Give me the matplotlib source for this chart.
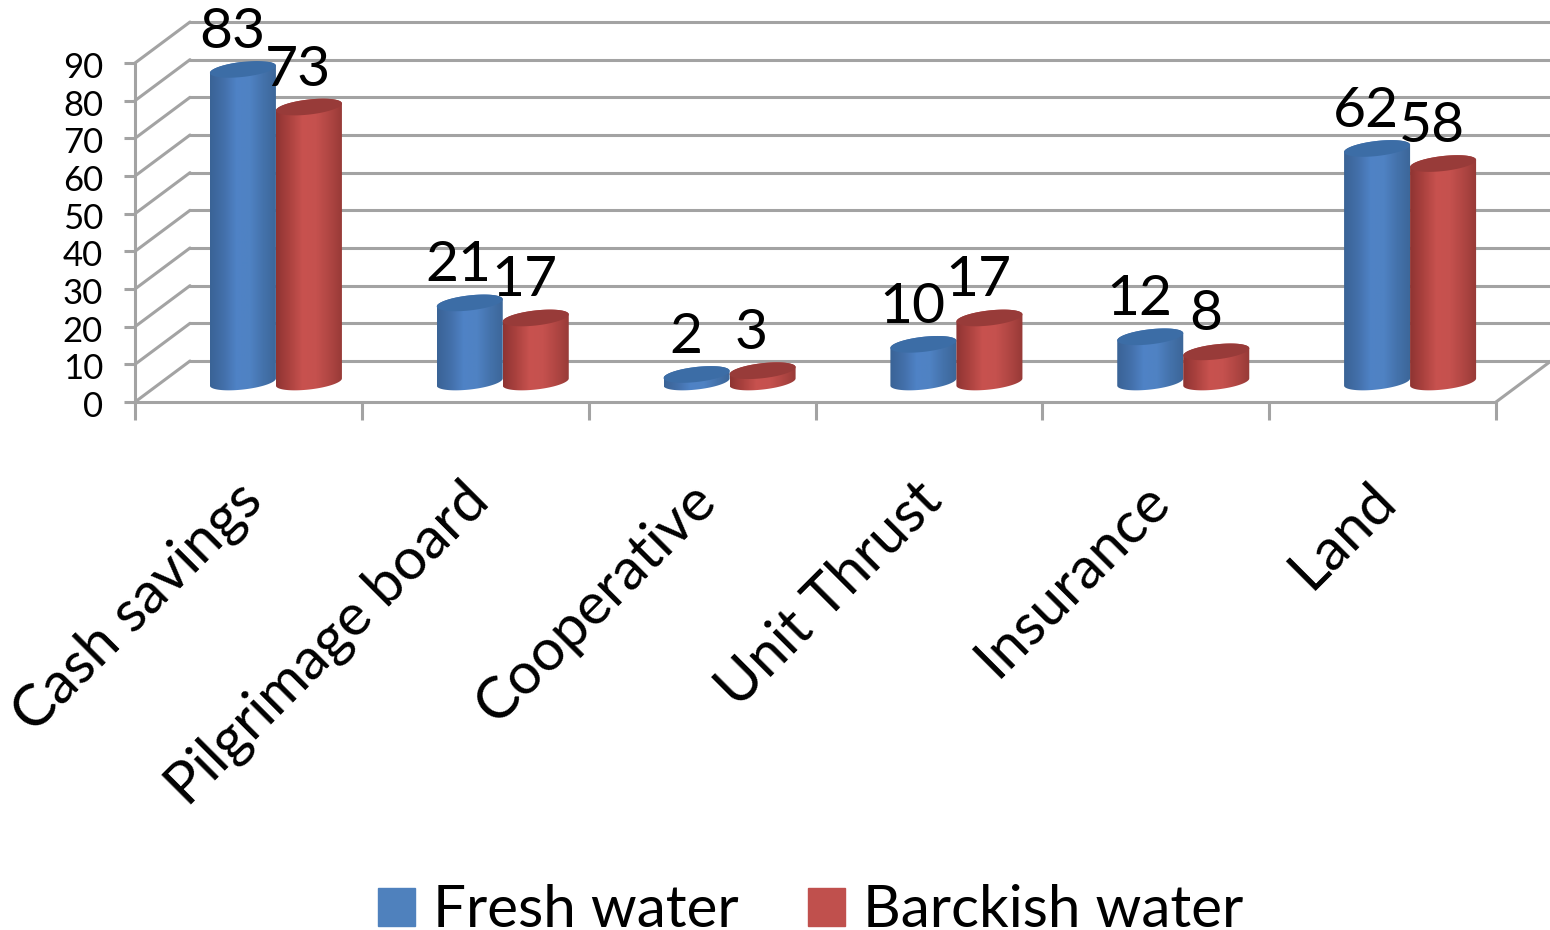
"""Cylinder chart of saving types for fresh water and brackish water farmers."""

import matplotlib

matplotlib.use("Agg")

import matplotlib.pyplot as plt
import numpy as np
from matplotlib.patches import Patch, PathPatch, Polygon
from matplotlib.path import Path
from matplotlib.transforms import Affine2D

categories = ["Cash savings", "Pilgrimage board", "Cooperative", "Unit Thrust", "Insurance", "Land"]
fresh_water = [83, 21, 2, 10, 12, 62]
brackish_water = [73, 17, 3, 17, 8, 58]
series_names = ["Fresh water", "Barckish water"]
y_ticks = list(range(0, 100, 10))

GRID = "#a3a3a3"
BLUES = ["#3a6396", "#436fa9", "#4f83c6", "#4f82c3", "#4472ab", "#3c6698"]
REDS = ["#8f3432", "#ab423f", "#c8524f", "#c5514e", "#b04643", "#963a37"]
BLUE_TOP = "#3c6da6"
RED_TOP = "#983b39"
BAR_W = 0.291


def hex_ramp(colors):
    """Horizontal gradient image from a list of hex colours."""
    rgb = np.array([matplotlib.colors.to_rgb(c) for c in colors])
    pos = np.linspace(0, 1, len(colors))
    xs = np.linspace(0, 1, 128)
    ramp = np.stack([np.interp(xs, pos, rgb[:, k]) for k in range(3)], axis=-1)
    return ramp[np.newaxis, :, :]


def cylinder(ax, xc, value, colors, top_color, trans):
    """Draw one tilted cylinder from zero up to value."""
    a, b, s = BAR_W / 2, 2.0, 0.95
    up = np.linspace(0, np.pi, 60)
    down = np.linspace(np.pi, 2 * np.pi, 60)

    def arc(t, yc):
        return np.column_stack([xc + a * np.cos(t), yc + b * np.sin(t) + s * np.cos(t)])

    body = np.vstack([arc(down, 0), arc(up, value)])
    clip = PathPatch(Path(np.vstack([body, body[:1]])), transform=trans, fc="none", ec="none")
    ax.add_patch(clip)
    img = ax.imshow(
        hex_ramp(colors),
        extent=(xc - a, xc + a, -3, value + 3),
        aspect="auto",
        transform=trans,
        zorder=3,
        interpolation="bilinear",
    )
    img.set_clip_path(clip)
    img.set_clip_box(None)
    all_t = np.linspace(0, 2 * np.pi, 120)
    ax.add_patch(Polygon(arc(all_t, value), closed=True, fc=top_color, ec="none", transform=trans, zorder=3, clip_on=False))


def main():
    """Plot figure."""
    plt.rcParams["font.family"] = ["Lato", "DejaVu Sans"]
    fig = plt.figure(figsize=(15.5, 9.3), dpi=100)
    ax = fig.add_axes([135 / 1550, 528 / 930, 1361 / 1550, 339 / 930])
    n = len(categories)

    back = ax.transData + Affine2D().translate(55, 41)
    mid = ax.transData + Affine2D().translate(27.5, 20)

    # walls: grid lines at the back and the slanted lines on the left side
    for v in y_ticks:
        ax.plot([0, n], [v, v], color=GRID, lw=2.2, transform=back, clip_on=False, zorder=1)
        ax.annotate("", xy=(0, v), xytext=(55, 41), textcoords="offset pixels", xycoords="data",
                    arrowprops=dict(arrowstyle="-", color=GRID, lw=2.2, shrinkA=0, shrinkB=0), zorder=1)
    ax.annotate("", xy=(n, 0), xytext=(55, 41), textcoords="offset pixels", xycoords="data",
                arrowprops=dict(arrowstyle="-", color=GRID, lw=2.2, shrinkA=0, shrinkB=0), zorder=1)

    for i in range(n):
        left = i + 0.5 - BAR_W / 2
        right = i + 0.5 + BAR_W / 2
        cylinder(ax, left, fresh_water[i], BLUES, BLUE_TOP, mid)
        cylinder(ax, right, brackish_water[i], REDS, RED_TOP, mid)

    # value labels sit above each cylinder
    for i in range(n):
        for x, v in [(i + 0.5 - BAR_W / 2, fresh_water[i]), (i + 0.5 + BAR_W / 2, brackish_water[i])]:
            ax.annotate(str(v), xy=(x, v), xytext=(16.5, 57), textcoords="offset pixels",
                        ha="center", va="center", fontsize=41, color="black", zorder=5,
                        annotation_clip=False)

    ax.set_xlim(0, n)
    ax.set_ylim(0, 90)
    ax.patch.set_visible(False)
    for side in ["top", "right"]:
        ax.spines[side].set_visible(False)
    for side in ["left", "bottom"]:
        ax.spines[side].set_color(GRID)
        ax.spines[side].set_linewidth(2.2)

    ax.set_yticks(y_ticks)
    ax.tick_params(axis="y", length=8, width=2.2, color=GRID, labelsize=25, pad=15)
    for label in ax.get_yticklabels():
        label.set_transform(label.get_transform() + Affine2D().translate(0, -2))
    ax.set_xticks(range(n + 1))
    ax.set_xticklabels([])
    ax.tick_params(axis="x", which="major", length=13, width=2.2, color=GRID)
    ax.set_xticks([i + 0.5 for i in range(n)], minor=True)
    ax.set_xticklabels(categories, minor=True, rotation=45, ha="right", va="top",
                       rotation_mode="anchor", fontsize=42)
    ax.tick_params(axis="x", which="minor", length=0, pad=51)
    for label in ax.get_xticklabels(minor=True):
        label.set_transform(label.get_transform() + Affine2D().translate(-14, 0))

    fig.legend(
        handles=[Patch(color="#4f81bd", label=series_names[0]), Patch(color="#c0504d", label=series_names[1])],
        loc="center",
        bbox_to_anchor=(0.523, 0.0205),
        ncol=2,
        frameon=False,
        fontsize=42,
        handlelength=0.63,
        handleheight=0.63,
        handletextpad=0.3,
        columnspacing=1.2,
        borderpad=0,
    )

    fig.savefig("out.png", dpi=100)


if __name__ == "__main__":
    main()
